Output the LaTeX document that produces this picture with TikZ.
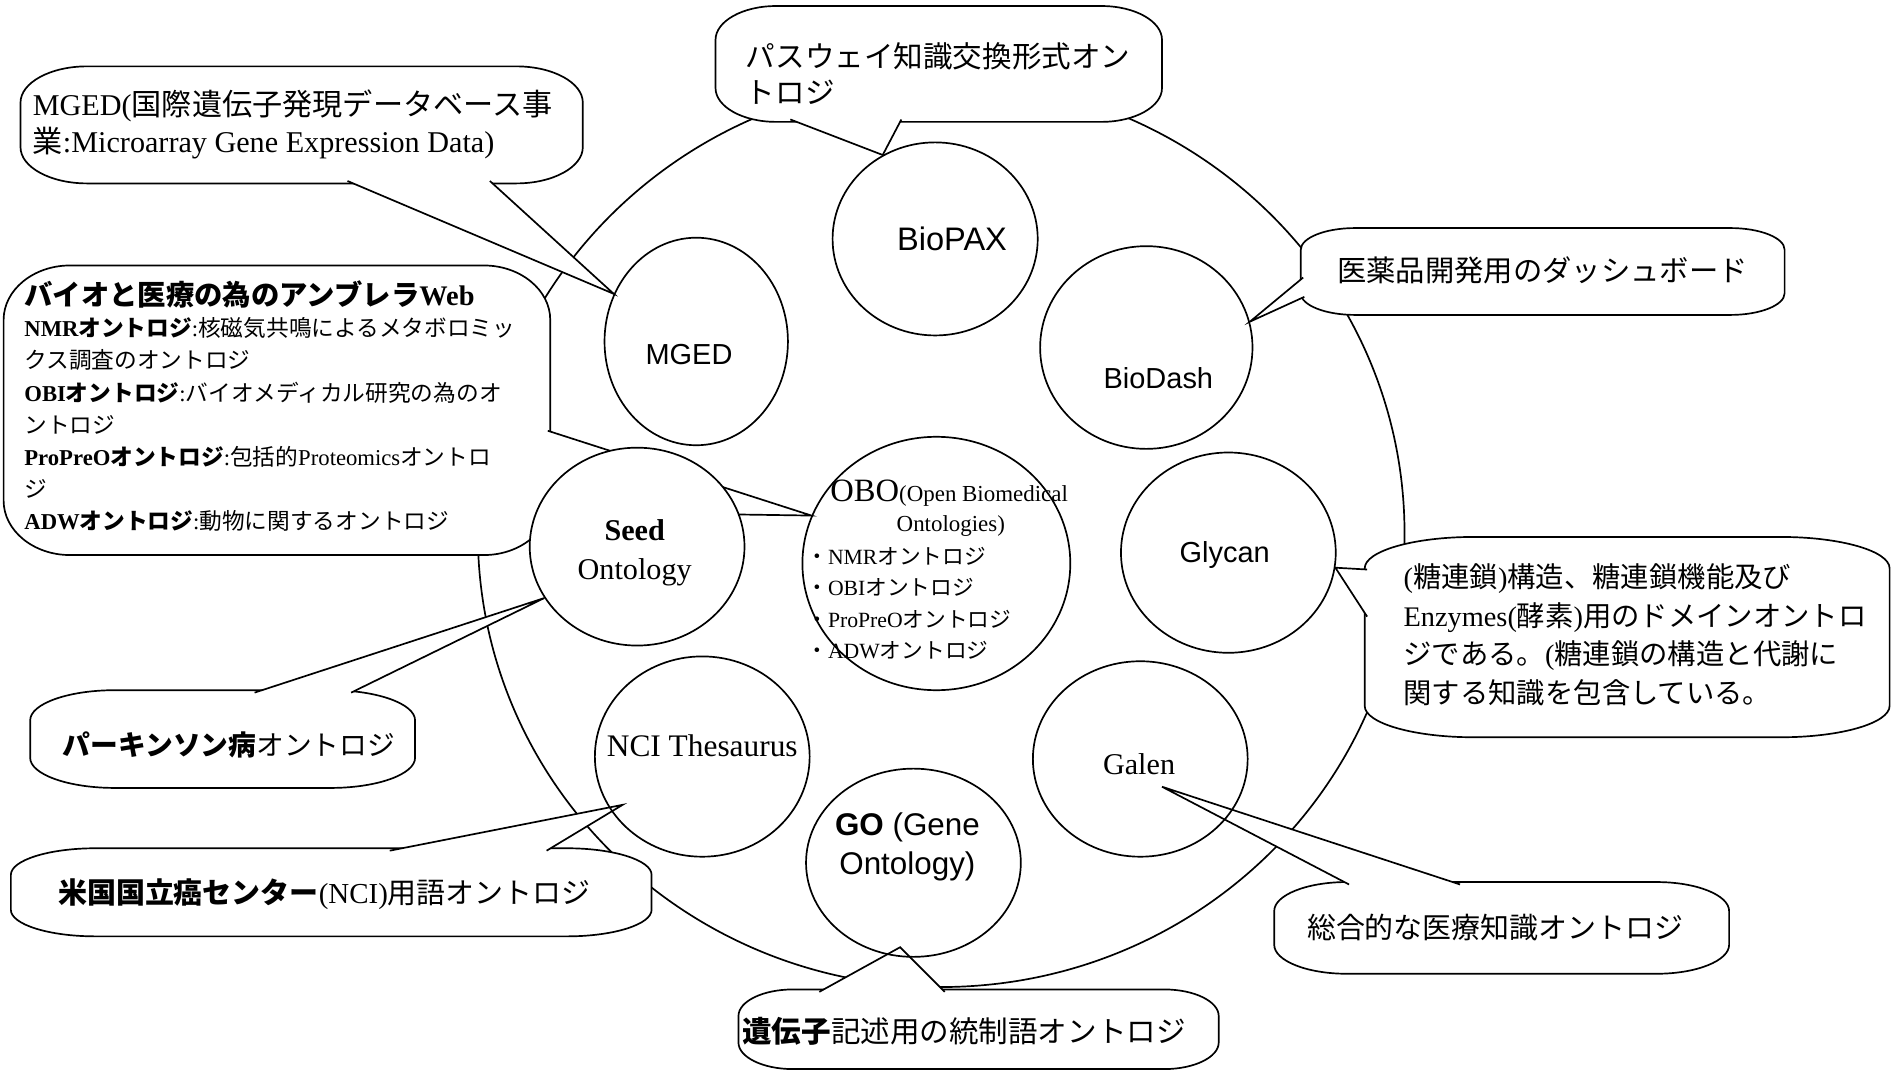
\documentclass[tikz,border=0pt]{standalone}
\usepackage{fontspec}
\setmainfont{Liberation Serif}
\setsansfont{Liberation Sans}
\newfontfamily\jpfont{Noto Sans CJK JP}
\usetikzlibrary{shapes.geometric}

\pgfdeclarelayer{back}
\pgfdeclarelayer{mid}
\pgfsetlayers{back,mid,main}

\newcommand{\ja}[1]{{\jpfont #1}}
% rounded callout body: left, top, right, bottom, corner width, corner height
\newcommand{\bubble}[6]{%
  \draw[bubble] ({#1},{#2+#6}) .. controls ({#1},{#2+0.45*#6}) and ({#1+0.45*#5},{#2}) .. ({#1+#5},{#2})
    -- ({#3-#5},{#2}) .. controls ({#3-0.45*#5},{#2}) and ({#3},{#2+0.45*#6}) .. ({#3},{#2+#6})
    -- ({#3},{#4-#6}) .. controls ({#3},{#4-0.45*#6}) and ({#3-0.45*#5},{#4}) .. ({#3-#5},{#4})
    -- ({#1+#5},{#4}) .. controls ({#1+0.45*#5},{#4}) and ({#1},{#4-0.45*#6}) .. ({#1},{#4-#6}) -- cycle;}

\tikzset{
  oval/.style={draw, ellipse, line width=1.4pt, inner sep=0pt},
  bubble/.style={draw, fill=white, line width=1.4pt},
  txt/.style={inner sep=0pt},
}

\begin{document}
\begin{tikzpicture}[x=1pt, y=-1pt]
	\useasboundingbox (0,0) rectangle (1568,888);

	%draw the ontology ovals
	\node[oval, minimum width=170pt, minimum height=160pt] (biopax) at (775,198) {};
	\node[oval, minimum width=152pt, minimum height=172pt] (mged) at (577,283) {};
	\node[oval, minimum width=176pt, minimum height=168pt] (biodash) at (950,288) {};
	\node[oval, fill=white, minimum width=178pt, minimum height=164pt] (seed) at (528,453) {};
	\node[oval, minimum width=222pt, minimum height=210pt] (obo) at (776,467) {};
	\node[oval, minimum width=178pt, minimum height=166pt] (glycan) at (1018,458) {};
	\node[oval, minimum width=178pt, minimum height=166pt] (nci) at (582,627) {};
	\node[oval, minimum width=178pt, minimum height=156pt] (go) at (757,715) {};
	\node[oval, minimum width=178pt, minimum height=162pt] (galen) at (945,629) {};

	%label the ovals
	\node[txt, font=\sffamily\fontsize{27}{32}\selectfont] (biopaxlbl) at (789,198) {BioPAX};
	\node[txt, font=\sffamily\fontsize{24}{30}\selectfont] (mgedlbl) at (571,294) {MGED};
	\node[txt, font=\sffamily\fontsize{24}{30}\selectfont] (biodashlbl) at (960,313) {BioDash};
	\node[txt, font=\sffamily\fontsize{24}{30}\selectfont] (glycanlbl) at (1015,460) {Glycan};
	\node[txt, font=\fontsize{25}{30}\selectfont] (galenlbl) at (944,633) {Galen};
	\node[txt, align=center, font=\fontsize{25}{32}\selectfont] (seedlbl) at (526,458) {\textbf{Seed}\\Ontology};
	\node[txt, font=\fontsize{26}{30}\selectfont] (ncilbl) at (582,618) {NCI Thesaurus};
	\node[txt, align=center, font=\sffamily\fontsize{26}{32}\selectfont] (golbl) at (752,702) {\textbf{GO} (Gene\\Ontology)};
	\node[txt, anchor=west, font=\fontsize{27}{30}\selectfont] (obotitle) at (688,409) {OBO{\fontsize{19}{22}\selectfont(Open Biomedical}};
	\node[txt, font=\fontsize{19}{22}\selectfont] (obosub) at (788,436) {Ontologies)};
	\node[txt, anchor=west, align=left, font=\fontsize{18}{26}\selectfont] (obolist) at (668,500) {\ja{・}NMR\ja{オントロジ}\\\ja{・}OBI\ja{オントロジ}\\\ja{・}ProPreO\ja{オントロジ}\\\ja{・}ADW\ja{オントロジ}};

	%draw the big ring behind everything
	\begin{pgfonlayer}{back}
	\node[oval, minimum width=768pt, minimum height=752pt] (ring) at (780,442) {};
	\end{pgfonlayer}

	\begin{pgfonlayer}{mid}
	%callout for BioPAX
	\bubble{593}{5}{963}{101}{50}{28}
	\draw[bubble] (655,99) -- (biopax.122) -- (747,99);
	\node[txt, anchor=west, align=left, font=\fontsize{24.5}{30}\selectfont] (biopaxtxt) at (618,61) {\ja{パスウェイ知識交換形式オン}\\\ja{トロジ}};

	%callout for MGED
	\bubble{17}{55}{483}{152}{55}{30}
	\draw[bubble] (288,150) -- (mged.150) -- (406,150);
	\node[txt, anchor=west, align=left, font=\fontsize{25}{31}\selectfont] (mgedtxt) at (27,103) {MGED(\ja{国際遺伝子発現データベース事}\\\ja{業}:Microarray Gene Expression Data)};

	%callout for the umbrella web, pointing at OBO
	\bubble{3}{220}{456}{460}{55}{45}
	\draw[bubble] (454,357) -- (obo.159) -- (450,424);
	\node[txt, anchor=west, font=\bfseries\fontsize{23.5}{28}\selectfont] (webtitle) at (20,244) {\ja{バイオと医療の為のアンブレラ}Web};
	\node[txt, anchor=west, align=left, font=\fontsize{18.8}{26.7}\selectfont] (webtxt) at (20,352) {\textbf{NMR\ja{オントロジ}}:\ja{核磁気共鳴によるメタボロミッ}\\\ja{クス調査のオントロジ}\\\textbf{OBI\ja{オントロジ}}:\ja{バイオメディカル研究の為のオ}\\\ja{ントロジ}\\\textbf{ProPreO\ja{オントロジ}}:\ja{包括的}Proteomics\ja{オントロ}\\\ja{ジ}\\\textbf{ADW\ja{オントロジ}}:\ja{動物に関するオントロジ}};

	%callout for BioDash
	\bubble{1078}{189}{1479}{261}{45}{18}
	\draw[bubble] (1080,230) -- (biodash.14) -- (1081,246);
	\node[txt, anchor=west, font=\fontsize{24.3}{30}\selectfont] (biodashtxt) at (1108,224) {\ja{医薬品開発用のダッシュボード}};

	%callout for Glycan
	\bubble{1131}{445}{1566}{611}{90}{26}
	\draw[bubble] (1133,472) -- (glycan.-8) -- (1133,511);
	\node[txt, anchor=west, align=left, font=\fontsize{23.5}{32}\selectfont] (glycantxt) at (1163,526) {(\ja{糖連鎖})\ja{構造、糖連鎖機能及び}\\Enzymes(\ja{酵素})\ja{用のドメインオントロ}\\\ja{ジである。}(\ja{糖連鎖の構造と代謝に}\\\ja{関する知識を包含している。}};

	%callout for Galen
	\coordinate (galentip) at (963,652);
	\bubble{1056}{731}{1433}{807}{60}{24}
	\draw[bubble] (1118,733) -- (galentip) -- (1210,733);
	\node[txt, anchor=west, font=\fontsize{24}{30}\selectfont] (galentxt) at (1083,769) {\ja{総合的な医療知識オントロジ}};

	%callout for GO
	\coordinate (gotip) at (746,785);
	\bubble{612}{820}{1010}{886}{45}{22}
	\draw[bubble] (679,822) -- (gotip) -- (783,822);
	\node[txt, anchor=west, font=\fontsize{24.5}{30}\selectfont] (gotxt) at (615,855) {\ja{\textbf{遺伝子}記述用の統制語オントロジ}};

	%callout for NCI Thesaurus
	\coordinate (ncitip) at (516,667);
	\bubble{9}{703}{540}{776}{70}{22}
	\draw[bubble] (323,705) -- (ncitip) -- (453,705);
	\node[txt, anchor=west, font=\fontsize{24}{30}\selectfont] (ncitxt) at (48,741) {\ja{\textbf{米国国立癌センター}}(NCI)\ja{用語オントロジ}};

	%callout for Seed Ontology
	\bubble{25}{572}{344}{653}{70}{25}
	\draw[bubble] (211,574) -- (seed.209) -- (291,574);
	\node[txt, anchor=west, font=\fontsize{23}{30}\selectfont] (seedtxt) at (52,617) {\ja{\textbf{パーキンソン病}オントロジ}};
	\end{pgfonlayer}
\end{tikzpicture}
\end{document}
